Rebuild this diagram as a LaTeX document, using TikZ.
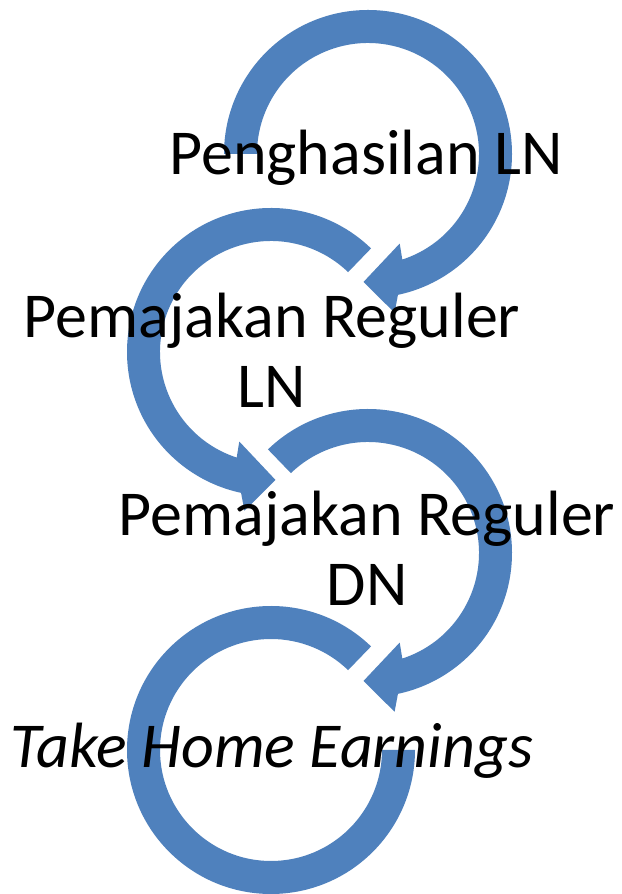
\documentclass[tikz,border=0pt]{standalone}
\usepackage{fontspec}
\setmainfont{Carlito}
\definecolor{panah}{HTML}{4F81BD}
\begin{document}
\begin{tikzpicture}[x=1pt,y=1pt,line join=round,font=\fontsize{64}{70}\selectfont]

	% Kích thước
	\def\Ro{144}   % bán kính ngoài
	\def\Ri{111}   % bán kính trong
	\def\Rm{128}   % mũi tên
	\def\Ra{95}    % ngạnh trong
	\def\Rb{161}   % ngạnh ngoài

	% Khung
	\useasboundingbox (0,0) rectangle (621,894);
	\fill[white] (0,0) rectangle (621,894);

	% Tâm các vòng
	\coordinate (c1) at (368,740);
	\coordinate (c2) at (271,542);
	\coordinate (c3) at (368,341);
	\coordinate (c4) at (271,144);

	% Vòng theo chiều kim đồng hồ
	\newcommand{\vongcw}[1]{%
		\fill[panah] (#1:\Ro) arc[start angle=#1,end angle=-78,radius=\Ro]
			-- (-80.5:\Rb) -- (-92:\Rm) -- (-70.5:\Ra) -- (-72:\Ri)
			arc[start angle=-72,end angle=#1,radius=\Ri] -- cycle;}
	% Vòng ngược chiều kim đồng hồ
	\newcommand{\vongccw}[1]{%
		\fill[panah] (#1:\Ro) arc[start angle=#1,end angle=258,radius=\Ro]
			-- (260.5:\Rb) -- (272:\Rm) -- (250.5:\Ra) -- (252:\Ri)
			arc[start angle=252,end angle=#1,radius=\Ri] -- cycle;}

	\begin{scope}[shift={(c1)}] \vongcw{180} \end{scope}
	\begin{scope}[shift={(c2)}] \vongccw{46} \end{scope}
	\begin{scope}[shift={(c3)}] \vongcw{134} \end{scope}
	% Vòng cuối (không có mũi tên)
	\begin{scope}[shift={(c4)}]
		\fill[panah] (46:\Ro) arc[start angle=46,end angle=360,radius=\Ro]
			-- (0:\Ri) arc[start angle=360,end angle=46,radius=\Ri] -- cycle;
	\end{scope}

	% Ghi nhãn
	\node[anchor=base] (penghasilan) at (366,719) {Penghasilan LN};
	\node[anchor=base,align=center] (regulerLN) at (272,486) {Pemajakan Reguler\\LN};
	\node[anchor=base,align=center] (regulerDN) at (367,288) {Pemajakan Reguler\\DN};
	\node[anchor=base] (thp) at (272,126) {\itshape Take Home Earnings};

\end{tikzpicture}
\end{document}
